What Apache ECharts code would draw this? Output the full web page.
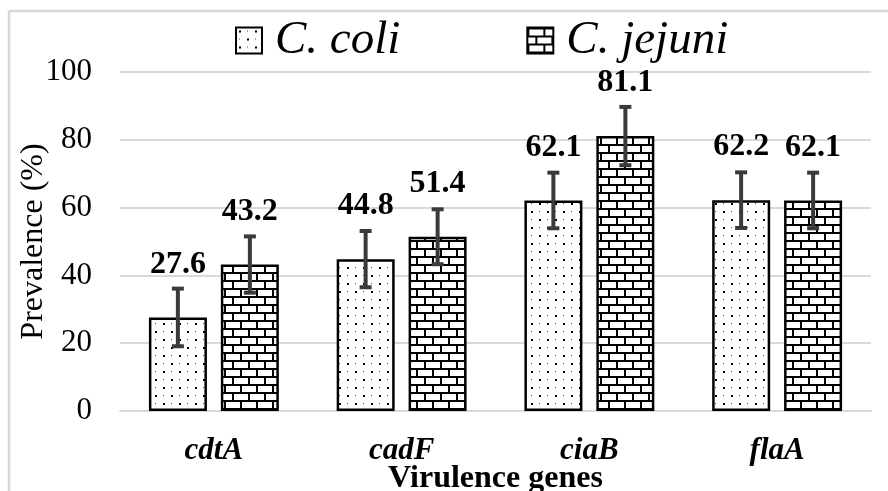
<!DOCTYPE html>
<html>
<head>
<meta charset="utf-8">
<script src="https://cdn.jsdelivr.net/npm/echarts@6/dist/echarts.min.js"></script>
<style>html,body{margin:0;padding:0;background:#fff}#c{width:888px;height:491px}</style>
</head>
<body>
<div id="c"></div>
<script>
const categories = ['cdtA', 'cadF', 'ciaB', 'flaA'];
const coliValues = [27.6, 44.8, 62.1, 62.2];
const jejuniValues = [43.2, 51.4, 81.1, 62.1];
const coliErrors = [8.5, 8.3, 8.2, 8.2];
const jejuniErrors = [8.3, 8.1, 8.6, 8.2];
const yTicks = [0, 20, 40, 60, 80, 100];
const seriesNames = ['C. coli', 'C. jejuni'];

function dotPattern() {
  const c = document.createElement('canvas');
  c.width = 16; c.height = 16;
  const g = c.getContext('2d');
  g.fillStyle = '#fff'; g.fillRect(0, 0, 16, 16);
  g.fillStyle = '#000';
  g.fillRect(3, 3, 2, 2);
  g.fillRect(11, 11, 2, 2);
  g.fillStyle = '#555';
  g.fillRect(11, 3, 1, 1);
  g.fillRect(3, 11, 1, 1);
  return c;
}
function brickPattern() {
  const c = document.createElement('canvas');
  c.width = 16; c.height = 16;
  const g = c.getContext('2d');
  g.fillStyle = '#fff'; g.fillRect(0, 0, 16, 16);
  g.fillStyle = '#000';
  g.fillRect(0, 0, 16, 2);
  g.fillRect(0, 8, 16, 2);
  g.fillRect(0, 2, 2, 6);
  g.fillRect(8, 10, 2, 6);
  return c;
}

const serif = 'Liberation Serif';
const chart = echarts.init(document.getElementById('c'));

function errorSeries(name, values, errors, offset) {
  return {
    type: 'custom',
    name: name + ' err',
    z: 5,
    data: values.map((v, i) => [i, v, errors[i]]),
    renderItem: function (params, api) {
      const i = api.value(0), v = api.value(1), e = api.value(2);
      const top = api.coord([i, v + e]);
      const bot = api.coord([i, v - e]);
      const x = top[0] + offset;
      const hw = 6;
      const style = { stroke: '#3a3a3a', lineWidth: 4 };
      return {
        type: 'group',
        children: [
          { type: 'line', shape: { x1: x, y1: top[1], x2: x, y2: bot[1] }, style },
          { type: 'line', shape: { x1: x - hw, y1: top[1], x2: x + hw, y2: top[1] }, style },
          { type: 'line', shape: { x1: x - hw, y1: bot[1], x2: x + hw, y2: bot[1] }, style }
        ]
      };
    }
  };
}

const labelCfg = {
  show: true, position: 'top', distance: 37,
  fontFamily: serif, fontWeight: 'bold', fontSize: 32, color: '#000'
};

chart.setOption({
  animation: false,
  backgroundColor: '#fff',
  graphic: [
    { type: 'line', shape: { x1: 9, y1: 11, x2: 888, y2: 11 }, style: { stroke: '#d6d6d6', lineWidth: 2.5 } },
    { type: 'line', shape: { x1: 9, y1: 11, x2: 9, y2: 491 }, style: { stroke: '#d6d6d6', lineWidth: 2.5 } }
  ],
  legend: {
    data: seriesNames,
    left: 230,
    top: 12,
    itemWidth: 26,
    itemHeight: 26,
    itemGap: 126,
    icon: 'rect',
    textStyle: { fontFamily: serif, fontStyle: 'italic', fontSize: 47, color: '#000', padding: [0, 0, 0, 8] }
  },
  grid: { left: 120, right: 17, top: 72, bottom: 80, outerBoundsMode: 'none', containLabel: false },
  xAxis: {
    type: 'category',
    data: categories,
    axisLine: { lineStyle: { color: '#d9d9d9', width: 2 } },
    axisTick: { show: false },
    axisLabel: { margin: 24, fontFamily: serif, fontStyle: 'italic', fontWeight: 'bold', fontSize: 31, color: '#000' },
    name: 'Virulence genes',
    nameLocation: 'middle',
    nameGap: 52,
    nameMoveOverlap: false,
    nameTextStyle: { fontFamily: serif, fontWeight: 'bold', fontSize: 32, color: '#000' }
  },
  yAxis: {
    type: 'value',
    min: yTicks[0],
    max: yTicks[yTicks.length - 1],
    interval: 20,
    axisLine: { show: false },
    axisTick: { show: false },
    splitLine: { lineStyle: { color: '#d9d9d9', width: 2 } },
    axisLabel: { margin: 28, fontFamily: serif, fontSize: 31, color: '#000' },
    name: 'Prevalence (%)',
    nameLocation: 'middle',
    nameGap: 70,
    nameMoveOverlap: false,
    nameTextStyle: { fontFamily: serif, fontSize: 32, color: '#000' }
  },
  series: [
    {
      type: 'bar', name: seriesNames[0], data: coliValues,
      barWidth: 58, barGap: '24%',
      itemStyle: { color: { image: dotPattern(), repeat: 'repeat' }, borderColor: '#000', borderWidth: 2.5 },
      label: labelCfg
    },
    {
      type: 'bar', name: seriesNames[1], data: jejuniValues,
      barWidth: 58, barGap: '24%',
      itemStyle: { color: { image: brickPattern(), repeat: 'repeat' }, borderColor: '#000', borderWidth: 2.5 },
      label: labelCfg
    },
    errorSeries(seriesNames[0], coliValues, coliErrors, -36),
    errorSeries(seriesNames[1], jejuniValues, jejuniErrors, 36)
  ]
});
</script>
</body>
</html>
